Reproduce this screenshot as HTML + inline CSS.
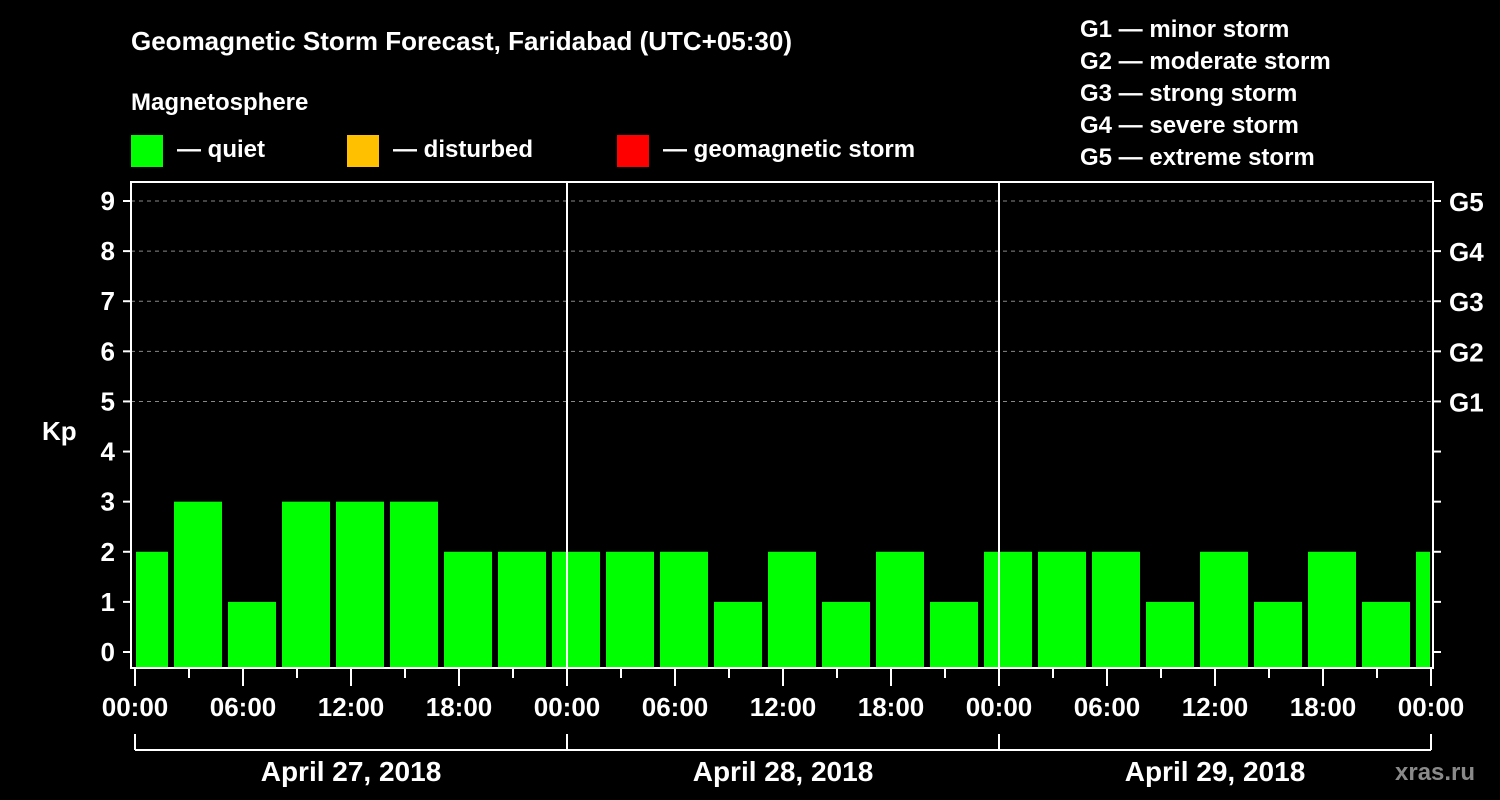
<!DOCTYPE html>
<html><head><meta charset="utf-8"><style>
body{margin:0;background:#000;width:1500px;height:800px;overflow:hidden}
svg{display:block}
text{font-family:"Liberation Sans",Arial,sans-serif;font-weight:bold;fill:#fff}
</style></head><body>
<svg id="c" width="1500" height="800">
<text x="131" y="50" font-size="26">Geomagnetic Storm Forecast, Faridabad (UTC+05:30)</text>
<text x="131" y="110" font-size="24">Magnetosphere</text>
<rect x="131" y="135" width="32" height="32" fill="#00ff00"/>
<text x="177" y="157" font-size="24">— quiet</text>
<rect x="347" y="135" width="32" height="32" fill="#ffc000"/>
<text x="393" y="157" font-size="24">— disturbed</text>
<rect x="617" y="135" width="32" height="32" fill="#ff0000"/>
<text x="663" y="157" font-size="24">— geomagnetic storm</text>
<text x="1080" y="37" font-size="24">G1 — minor storm</text>
<text x="1080" y="69" font-size="24">G2 — moderate storm</text>
<text x="1080" y="101" font-size="24">G3 — strong storm</text>
<text x="1080" y="133" font-size="24">G4 — severe storm</text>
<text x="1080" y="165" font-size="24">G5 — extreme storm</text>
<text x="42" y="440" font-size="26">Kp</text>
<text x="1395" y="780" font-size="24" fill="#888" style="fill:#8a8a8a">xras.ru</text>
<g id="plot"></g>
</svg>
<script>
const kpValues=[2,3,1,3,3,3,2,2,2,2,2,1,2,1,2,1,2,2,2,1,2,1,2,1,2];
const yTicks=[0,1,2,3,4,5,6,7,8,9];
const gLabels=["G1","G2","G3","G4","G5"];
const gLevels=[5,6,7,8,9];
const xTickLabels=["00:00","06:00","12:00","18:00","00:00","06:00","12:00","18:00","00:00","06:00","12:00","18:00","00:00"];
const dayLabels=["April 27, 2018","April 28, 2018","April 29, 2018"];
const barStartHour=-1, barHours=3;
const NS="http://www.w3.org/2000/svg";
const g=document.getElementById('plot');
const X0=135,X1=1431,L=131,R=1433,T=182,B=668;
const xs=h=>X0+(X1-X0)*h/72;
const ys=v=>652-v*(652-201)/9;
function el(t,a,txt){const e=document.createElementNS(NS,t);for(const k in a)e.setAttribute(k,a[k]);if(txt!==undefined)e.textContent=txt;g.appendChild(e);return e;}
// grid
gLevels.forEach((v,i)=>{
 const l=el('line',{x1:L,x2:R,y1:ys(v),y2:ys(v),stroke:'#888','stroke-dasharray':'4,4','stroke-width':1});
 
 
 const t=el('text',{x:1449,y:ys(v)+10,'font-size':26},gLabels[i]);
 
 
});
// bars
kpValues.forEach((v,i)=>{
 const h0=barStartHour+i*barHours;
 let a=xs(h0)+3,b=xs(h0+barHours)-3;
 a=Math.max(a,X0+1);b=Math.min(b,X1-1);
 const r=el('rect',{x:a,y:ys(v),width:b-a,height:B-ys(v),fill:'#00ff00'});
 
 
});
// frame
const fr=el('rect',{x:L,y:T,width:R-L,height:B-T,fill:'none',stroke:'#fff','stroke-width':2});


// day separators
[24,48].forEach(h=>{
 const l=el('line',{x1:xs(h),x2:xs(h),y1:T,y2:B,stroke:'#fff','stroke-width':2});
 
 
});
// y ticks
yTicks.forEach(v=>{
 el('line',{x1:L-8,x2:L,y1:ys(v),y2:ys(v),stroke:'#fff','stroke-width':2});
 el('line',{x1:R,x2:R+8,y1:ys(v),y2:ys(v),stroke:'#fff','stroke-width':2});
 const t=el('text',{x:L-16,y:ys(v)+9,'font-size':26,'text-anchor':'end'},String(v));
 
 
});
// x ticks
for(let h=0;h<=72;h+=3){
 const major=h%6===0;
 el('line',{x1:xs(h),x2:xs(h),y1:B,y2:B+(major?18:10),stroke:'#fff','stroke-width':2});
}
xTickLabels.forEach((s,i)=>{
 const t=el('text',{x:xs(i*6),y:716,'font-size':26,'text-anchor':'middle'},s);
 
 
});
// day brackets
el('line',{x1:X0,x2:X1,y1:750,y2:750,stroke:'#fff','stroke-width':2});
[0,24,48,72].forEach(h=>el('line',{x1:xs(h),x2:xs(h),y1:734,y2:750,stroke:'#fff','stroke-width':2}));
dayLabels.forEach((s,i)=>{
 const t=el('text',{x:xs(i*24+12),y:781,'font-size':28,'text-anchor':'middle'},s);
 
 
});
</script>
</body></html>
